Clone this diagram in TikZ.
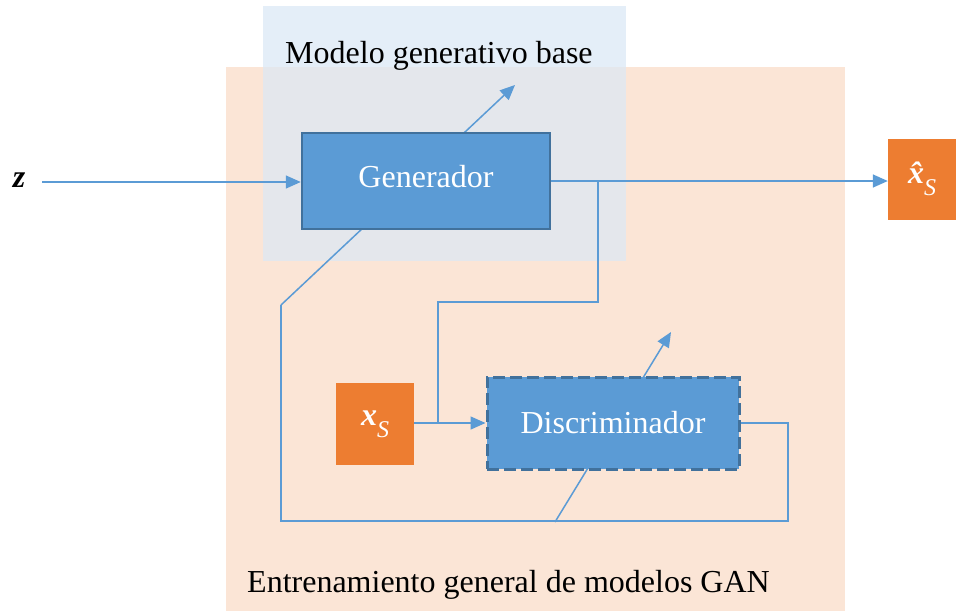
\documentclass[tikz,border=0pt]{standalone}
\usepackage{fontspec}
\setmainfont{Liberation Serif}
\usetikzlibrary{arrows.meta}
\definecolor{peach}{HTML}{FBE5D6}
\definecolor{lblue}{HTML}{E4EEF8}
\definecolor{overlap}{HTML}{E4E7EC}
\definecolor{boxblue}{HTML}{5B9BD5}
\definecolor{boxedge}{HTML}{41719C}
\definecolor{lineblue}{HTML}{5B9BD5}
\definecolor{orng}{HTML}{ED7D31}
\tikzset{
  blockbox/.style={draw=boxedge, fill=boxblue, line width=2.5pt, text=white,
    font=\fontsize{32}{38}\selectfont, inner sep=0pt},
  orangebox/.style={fill=orng, text=white, inner sep=0pt,
    font=\fontsize{32}{38}\selectfont\bfseries\itshape},
  conn/.style={draw=lineblue, line width=1.5pt},
  arr/.style={conn, -{Triangle[length=15pt,width=13pt]}},
  regiontext/.style={font=\fontsize{32}{38}\selectfont, anchor=base west, inner sep=0pt}
}
\begin{document}
\begin{tikzpicture}[x=1pt,y=-1pt]
\useasboundingbox (0,0) rectangle (956,611);
% regions
\fill[lblue] (263,6) rectangle (626,67);
\fill[peach] (226,67) rectangle (845,611);
\fill[overlap] (263,67) rectangle (626,261);
\node[regiontext] (tbase) at (285,63) {Modelo generativo base};
\node[regiontext] (tgan) at (247,592) {Entrenamiento general de modelos GAN};

% corner coordinates
\coordinate (br) at (598,181);
\coordinate (bc1) at (598,302);
\coordinate (bc2) at (438,302);
\coordinate (bj) at (438,423);
\coordinate (fr) at (788,423);
\coordinate (fb) at (788,521);
\coordinate (fl) at (281,521);
\coordinate (fu) at (281,305);
\coordinate (gtip) at (515,85);
\coordinate (dbot) at (555,522);
\coordinate (dtip) at (671,332);

% variable arrows (behind boxes)
\draw[arr] (fu) -- (gtip);
\draw[arr] (dbot) -- (dtip);

% boxes
\node[blockbox, minimum width=248pt, minimum height=96pt] (gen) at (426,181) {\raisebox{9pt}{Generador}};
\node[blockbox, line width=3pt, dash pattern=on 12pt off 5pt, minimum width=252pt, minimum height=92pt] (disc) at (613,423) {Discriminador};
\node[orangebox, minimum width=78pt, minimum height=82pt] (xs) at (375,424) {\raisebox{4pt}{x\raisebox{-12pt}{\fontsize{24}{28}\selectfont\mdseries S}}};
\node[orangebox, minimum width=68pt, minimum height=81pt] (xh) at (922,179) {\raisebox{6pt}{\^{x}\raisebox{-12pt}{\fontsize{24}{28}\selectfont\mdseries S}}};
\node[font=\fontsize{32}{38}\selectfont\bfseries\itshape, inner sep=0pt] (z) at (19,180) {z};

% connectors
\draw[arr] (42,182) -- (gen.west |- 0,182);
\draw[arr] (gen.east |- 0,181) -- (xh.west |- 0,181);
\draw[conn] (br) -- (bc1) -- (bc2) -- (bj);
\draw[arr] (xs.east |- 0,423) -- (disc.west |- 0,423);
\draw[conn] (disc.east |- 0,423) -- (fr) -- (fb) -- (fl) -- (fu);
\end{tikzpicture}
\end{document}
